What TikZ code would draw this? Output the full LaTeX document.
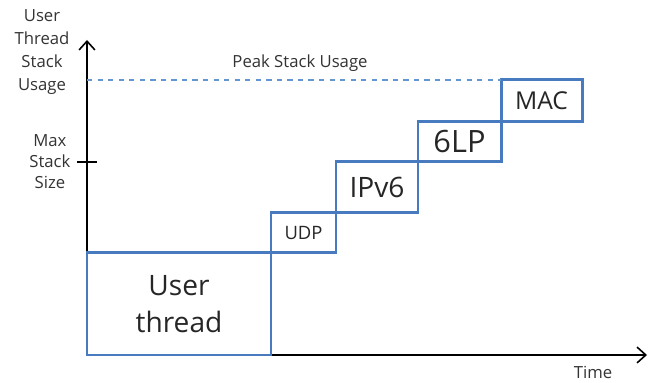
\documentclass[tikz,border=0pt]{standalone}
\usepackage{fontspec}
\setmainfont{Open Sans}
\usepackage{xcolor}
\usetikzlibrary{arrows.meta,positioning}
\definecolor{boxblue}{RGB}{72,122,192}
\definecolor{peakblue}{RGB}{100,150,210}

\begin{document}
\begin{tikzpicture}[thick]
\tikzstyle{layer} = [rectangle, draw=boxblue, line width=1.7pt, outer sep=0pt, inner sep=0pt, text=black!85, align=center]
\tikzstyle{axis} = [line width=0.9pt, -{Straight Barb[length=5pt,width=9pt]}]
\tikzstyle{lbl} = [font=\fontsize{9.5}{13}\selectfont, text=black!80, align=center]
\useasboundingbox (-1.74,-0.56) rectangle (11.34,7.10);

\coordinate (origin) at (0,0);
\coordinate (ytop) at (0,6.3);
\coordinate (xend) at (11.2,0);
\coordinate (tickl) at (-0.2,3.86);
\coordinate (tickr) at (0.2,3.86);
\coordinate (peak) at (0,5.5);

% axes
\draw [axis] (origin) -- (ytop);
\draw [axis] (origin) -- (xend);
\draw [line width=0.9pt] (tickl) -- (tickr);

% stack layers
\node [layer, minimum width=3.68cm, minimum height=2.04cm, font=\fontsize{16}{21}\selectfont, anchor=south west] (thread) at (origin) {User\\thread};
\node [layer, minimum width=1.30cm, minimum height=0.80cm, font=\fontsize{10.5}{12}\selectfont, above right=0pt and 0pt of thread.north east] (udp) {UDP};
\node [layer, minimum width=1.64cm, minimum height=1.02cm, font=\fontsize{16}{18}\selectfont, above right=0pt and 0pt of udp.north east] (ipv6) {IPv6};
\node [layer, minimum width=1.66cm, minimum height=0.80cm, font=\fontsize{17.5}{19}\selectfont, above right=0pt and 0pt of ipv6.north east] (sixlp) {6LP};
\node [layer, minimum width=1.62cm, minimum height=0.84cm, font=\fontsize{14}{16}\selectfont, above right=0pt and 0pt of sixlp.north east] (mac) {MAC};

\draw [peakblue, dashed, line width=0.6pt] (peak) -- (mac.north west);

% labels
\node [lbl] (ylabel) at (-0.9,6.06) {User\\Thread\\Stack\\Usage};
\node [lbl, left=0pt of tickl, font=\fontsize{9.5}{12}\selectfont] (maxlbl) {Max\\Stack\\Size};
\node [lbl] (peaklbl) at (4.26,5.84) {Peak Stack Usage};
\node [lbl] (timelbl) at (10.12,-0.34) {Time};
\end{tikzpicture}
\end{document}
